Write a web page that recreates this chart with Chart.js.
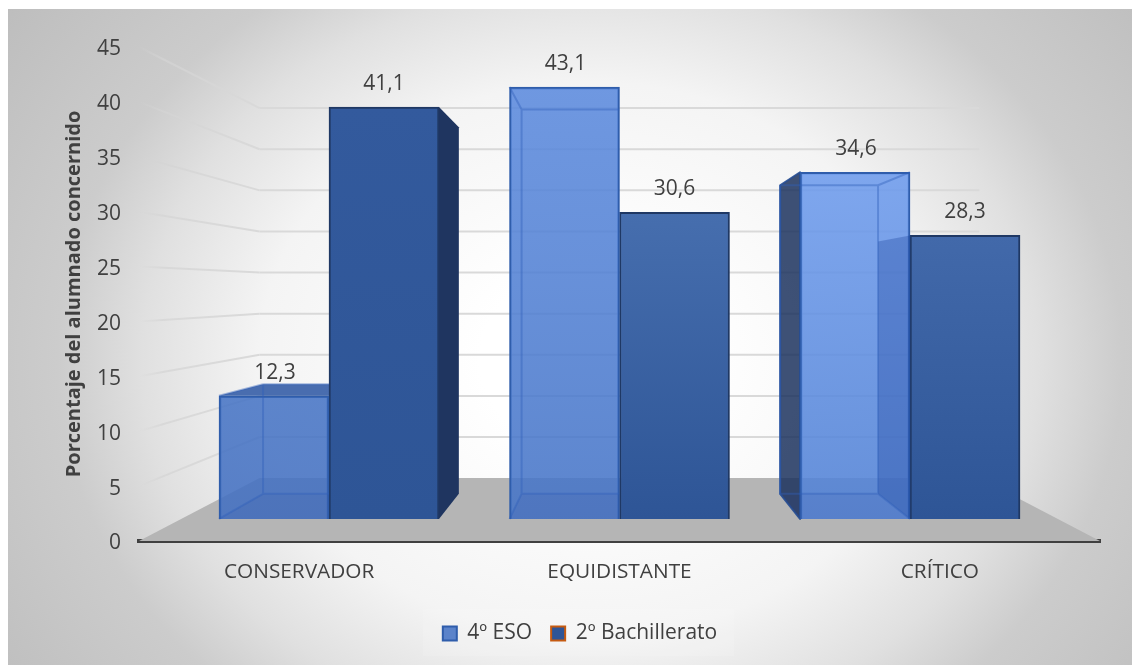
<!DOCTYPE html>
<html><head><meta charset="utf-8">
<style>html,body{margin:0;padding:0;background:#fff}canvas{display:block}#w{width:1132px;height:665px;position:relative}</style>
<script src="https://cdn.jsdelivr.net/npm/chart.js@4"></script></head>
<body><div id="w"><canvas id="c"></canvas></div>
<script>
const categories = ['CONSERVADOR','EQUIDISTANTE','CRÍTICO'];
const eso = [12.3,43.1,34.6];
const bach = [41.1,30.6,28.3];
const seriesNames = ['4º ESO','2º Bachillerato'];
const yTitle = 'Porcentaje del alumnado concernido';
const lightTop = ['rgba(70,116,197,.87)','rgba(91,138,222,.87)','rgba(109,155,237,.87)'];
const lightBottom = ['rgba(66,111,193,.87)','rgba(68,115,198,.87)','rgba(79,128,213,.87)'];
const darkTop = ['#335a9d','#466eae','#4269aa'];
const darkBottom = ['#2e5596','#2e5596','#2e5596'];
const FONT = '"Open Sans"';
const TXT = '#404040';
const BAR_DEPTH = .89, WALL_DEPTH = .749, VANISH_VALUE = 22.8;

function vertGrad(chart,top,bottom,c0,c1){
  const g = chart.ctx.createLinearGradient(0,top,0,bottom);
  g.addColorStop(0,c0); g.addColorStop(1,c1); return g;
}
function fillFor(tops,bottoms){
  return c => {
    const chart = c.chart, v = c.raw && c.raw.y;
    if (v === undefined || !chart.scales.yb) return tops[0];
    const s = chart.scales.yb;
    return vertGrad(chart,s.getPixelForValue(v),s.getPixelForValue(0),tops[c.dataIndex],bottoms[c.dataIndex]);
  };
}
function poly(ctx,pts,fill,stroke,w){
  ctx.beginPath();
  pts.forEach((p,i)=> i?ctx.lineTo(p[0],p[1]):ctx.moveTo(p[0],p[1]));
  ctx.closePath();
  if(fill){ctx.fillStyle=fill;ctx.fill();}
  if(stroke){ctx.strokeStyle=stroke;ctx.lineWidth=w||1;ctx.lineJoin='round';ctx.stroke();}
}
function boxes(chart,idx){
  const vx=(chart.chartArea.left+chart.chartArea.right)/2, vy=chart.scales.yb.getPixelForValue(VANISH_VALUE);
  const P=(x,y)=>[vx+BAR_DEPTH*(x-vx),vy+BAR_DEPTH*(y-vy)];
  return chart.getDatasetMeta(idx).data.map(b=>{
    const l=b.x-b.width/2,r=b.x+b.width/2,t=b.y,u=b.base;
    return {l,r,t,u,bl:P(l,t)[0],br:P(r,t)[0],bt:P(l,t)[1],bu:P(l,u)[1]};
  });
}
const bg = {id:'bg',
 afterLayout(chart){ const lg=chart.legend; if(lg){lg.left+=30;lg.right+=30;} },
 beforeDraw(chart){
  const ctx=chart.ctx,W=chart.width,H=chart.height;
  ctx.save();
  ctx.fillStyle='#fff';ctx.fillRect(0,0,W,H);
  const x0=8,y0=9;
  ctx.save();ctx.beginPath();ctx.rect(x0,y0,W-x0,H-y0);ctx.clip();
  ctx.translate(590,360);ctx.scale(1,.84);
  const g=ctx.createRadialGradient(0,0,110,0,0,760);
  g.addColorStop(0,'#ffffff');g.addColorStop(.34,'#f4f4f4');g.addColorStop(.52,'#e0e0e0');g.addColorStop(.65,'#cccccc');g.addColorStop(1,'#bababa');
  ctx.fillStyle=g;ctx.fillRect(-800,-800,1600,1600);
  ctx.restore();
  ctx.fillStyle='rgba(255,255,255,.12)';ctx.fillRect(423,609,311,47);
  ctx.restore();
}};
const scene = {id:'scene',
 beforeDatasetsDraw(chart){
  const ctx=chart.ctx,a=chart.chartArea,y=chart.scales.y;
  const vx=(a.left+a.right)/2, vy=chart.scales.yb.getPixelForValue(VANISH_VALUE);
  const Q=(px,py)=>[vx+WALL_DEPTH*(px-vx),vy+WALL_DEPTH*(py-vy)];
  ctx.save();
  const by0=y.getPixelForValue(0);
  poly(ctx,[[a.left,by0],[a.right,by0],Q(a.right,by0),Q(a.left,by0)],'#b5b5b5');
  ctx.lineWidth=2;ctx.lineCap='butt';
  y.ticks.forEach(t=>{
    const py=y.getPixelForValue(t.value); const b=Q(a.left,py); const e=Q(a.right,py);
    if(t.value===0) return;
    const g=ctx.createLinearGradient(a.left,0,b[0],0);
    g.addColorStop(0,'rgba(212,212,212,0)');g.addColorStop(.2,'rgba(212,212,212,.7)');g.addColorStop(1,'#d9d9d9');
    ctx.strokeStyle=g;ctx.beginPath();ctx.moveTo(a.left,py);ctx.lineTo(b[0],b[1]);ctx.stroke();
    ctx.strokeStyle='#d9d9d9';ctx.beginPath();ctx.moveTo(b[0],b[1]);ctx.lineTo(e[0],e[1]);ctx.stroke();
  });
  boxes(chart,0).forEach(k=>{
    if(k.bt<k.t) poly(ctx,[[k.l,k.t],[k.r,k.t],[k.br,k.bt],[k.bl,k.bt]],'rgba(49,90,165,.88)');
    if(k.bl<k.l) poly(ctx,[[k.l,k.t],[k.bl,k.bt],[k.bl,k.bu],[k.l,k.u]],'rgba(25,48,92,.84)','rgba(38,76,145,.9)',2);
  });
  boxes(chart,1).forEach(k=>{
    if(k.br>k.r) poly(ctx,[[k.r,k.t],[k.br,k.bt],[k.br,k.bu],[k.r,k.u]],'#1f3560');
  });
  ctx.restore();
 },
 afterDatasetsDraw(chart){
  const ctx=chart.ctx;
  ctx.save();
  boxes(chart,1).forEach(k=>{
    if(k.bl<k.l) poly(ctx,[[k.l,k.t],[k.bl,k.bt],[k.bl,k.bu],[k.l,k.u]],'rgba(16,56,150,.3)');
  });
  const dark=boxes(chart,1);
  boxes(chart,0).forEach((k,i)=>{
    const limit=dark[i].l;
    ctx.save();ctx.beginPath();ctx.rect(k.l-30,0,limit-k.l+30,chart.height);ctx.clip();
    poly(ctx,[[k.l,k.u],[k.r,k.u],[k.br,k.bu],[k.bl,k.bu]],'rgba(40,70,140,.09)');
    ctx.strokeStyle='rgba(48,96,185,.42)';ctx.lineWidth=2;
    ctx.beginPath();
    ctx.moveTo(k.bl,k.bt);ctx.lineTo(k.bl,k.bu);ctx.lineTo(k.br,k.bu);
    ctx.moveTo(k.bl,k.bt);ctx.lineTo(k.br,k.bt);
    if(k.br<k.r){ctx.moveTo(k.br,k.bt);ctx.lineTo(k.br,k.bu);ctx.moveTo(k.br,k.bt);ctx.lineTo(k.r,k.t);ctx.moveTo(k.br,k.bu);ctx.lineTo(k.r,k.u);}
    if(k.bl>k.l){ctx.moveTo(k.bl,k.bt);ctx.lineTo(k.l,k.t);ctx.moveTo(k.bl,k.bu);ctx.lineTo(k.l,k.u);}
    ctx.stroke();
    ctx.restore();
  });
  ctx.fillStyle=TXT;ctx.font='21px '+FONT;ctx.textAlign='center';ctx.textBaseline='middle';
  [[0,eso],[1,bach]].forEach(([i,vals])=>{
    chart.getDatasetMeta(i).data.forEach((b,j)=>{
      ctx.fillText(vals[j].toFixed(1).replace('.',','),b.x+(i?0:1),b.y-23);
    });
  });
  ctx.restore();
 }};
const ctx=document.getElementById('c');
new Chart(ctx,{
 type:'bar',
 data:{labels:categories,datasets:[
  {label:seriesNames[0],data:eso.map((v,i)=>({x:i,y:v})),xAxisID:'xb',yAxisID:'yb',
   backgroundColor:fillFor(lightTop,lightBottom),borderColor:'#2f5dab',borderWidth:2,barThickness:110},
  {label:seriesNames[1],data:bach.map((v,i)=>({x:i,y:v})),xAxisID:'xb',yAxisID:'yb',
   backgroundColor:fillFor(darkTop,darkBottom),borderColor:'#1f3864',borderWidth:2,barThickness:110}
 ]},
 options:{responsive:true,maintainAspectRatio:false,animation:false,
  layout:{padding:{top:47,right:32,bottom:11,left:0}},
  scales:{
   x:{type:'category',labels:categories,position:'bottom',offset:true,
      grid:{display:false,drawTicks:false},
      border:{display:true,color:'#404040',width:4},
      ticks:{color:TXT,font:{family:FONT,size:20.8},padding:19,maxRotation:0},
      afterFit(s){s.height=63;}},
   y:{type:'linear',position:'left',min:0,max:45,
      grid:{display:false,drawTicks:false},border:{display:false},
      ticks:{stepSize:5,color:TXT,font:{family:FONT,size:21},padding:18,labelOffset:2.5},
      title:{display:true,text:yTitle,color:TXT,font:{family:FONT,size:20,weight:'bold'},padding:{top:62,bottom:0}},
      afterFit(s){s.width=139;}},
   xb:{type:'linear',display:false,bounds:'data',offset:false,grid:{offset:false},min:-0.654,max:2.654},
   yb:{type:'linear',display:false,bounds:'data',position:'left',min:-2.2,max:47.1}
  },
  plugins:{
   tooltip:{enabled:false},
   legend:{position:'bottom',align:'center',
    labels:{color:TXT,font:{family:FONT,size:21},boxWidth:14,boxHeight:14,padding:19,
     generateLabels(){return [
      {text:seriesNames[0],fillStyle:'#5b83ca',strokeStyle:'#2f5dab',lineWidth:2,datasetIndex:0,fontColor:TXT},
      {text:seriesNames[1],fillStyle:'#2f5597',strokeStyle:'#c55a11',lineWidth:2,datasetIndex:1,fontColor:TXT}];}}}
  }
 },
 plugins:[bg,scene]
});
</script></body></html>
